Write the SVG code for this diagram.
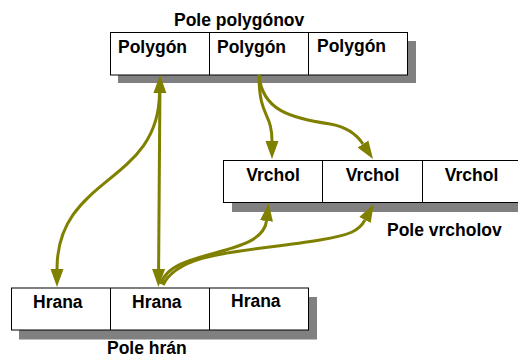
<svg xmlns="http://www.w3.org/2000/svg" width="518" height="358" viewBox="0 0 518 358">
<style>
.shadow{fill:#808080;stroke:none}
.box{fill:#fff;stroke:#000;stroke-width:1}
.div{stroke:#000;stroke-width:1}
.t{font-family:"Liberation Sans",Arial,sans-serif;font-weight:bold;font-size:17.5px;fill:#000}
.m{text-anchor:middle}
.c{fill:none;stroke:#808000;stroke-width:3}
</style>
<defs>
<marker id="ah" markerUnits="userSpaceOnUse" markerWidth="20" markerHeight="16" viewBox="0 -8 20 16" refX="0" refY="0" orient="auto-start-reverse">
<path d="M0,-6.5 L18,0 L0,6.5 z" fill="#808000"/>
</marker>
</defs>
<g id="label-polygony"><text class="t" x="174" y="26">Pole polygónov</text></g>
<g id="pole-polygonov">
<rect class="shadow" x="118" y="41" width="298" height="42"/>
<rect class="box" x="110.5" y="32.5" width="297" height="42.5"/>
<line class="div" x1="209.5" y1="32.5" x2="209.5" y2="75"/>
<line class="div" x1="308.5" y1="32.5" x2="308.5" y2="75"/>
<text class="t" x="118" y="53">Polygón</text>
<text class="t" x="217" y="53">Polygón</text>
<text class="t" x="317" y="52">Polygón</text>
</g>
<g id="pole-vrcholov">
<rect class="shadow" x="232" y="169" width="300" height="43"/>
<rect class="box" x="223.5" y="160.5" width="300" height="42"/>
<line class="div" x1="322.5" y1="160.5" x2="322.5" y2="202.5"/>
<line class="div" x1="422.5" y1="160.5" x2="422.5" y2="202.5"/>
<text class="t m" x="273" y="181">Vrchol</text>
<text class="t m" x="372.5" y="181">Vrchol</text>
<text class="t m" x="471.5" y="181">Vrchol</text>
</g>
<g id="label-vrcholy"><text class="t" x="387" y="236">Pole vrcholov</text></g>
<g id="pole-hran">
<rect class="shadow" x="19" y="297" width="298" height="42.5"/>
<rect class="box" x="11.5" y="288" width="297" height="42"/>
<line class="div" x1="110.5" y1="288" x2="110.5" y2="330"/>
<line class="div" x1="209.5" y1="288" x2="209.5" y2="330"/>
<text class="t" x="33" y="308">Hrana</text>
<text class="t" x="132" y="308">Hrana</text>
<text class="t" x="231" y="307">Hrana</text>
</g>
<g id="label-hrany"><text class="t" x="107" y="354">Pole hrán</text></g>
<g id="connectors">
<path class="c" d="M159.9,93 L158.6,269" marker-start="url(#ah)" marker-end="url(#ah)"/>
<path class="c" d="M159.5,92 C159.5,185 57,175 57,269" marker-end="url(#ah)"/>
<path class="c" d="M161,284 C170,248 262,258 266.5,221" marker-end="url(#ah)"/>
<path class="c" d="M163,285 C180,250 250,252 320,240 C350,235 359,231 365,220" marker-end="url(#ah)"/>
<path class="c" d="M259,75 C259,118 272,112 272,141" marker-end="url(#ah)"/>
<path class="c" d="M259,75 C262,110 290,118 330,124 C348,127 357,135 363,144" marker-end="url(#ah)"/>
</g>
</svg>
